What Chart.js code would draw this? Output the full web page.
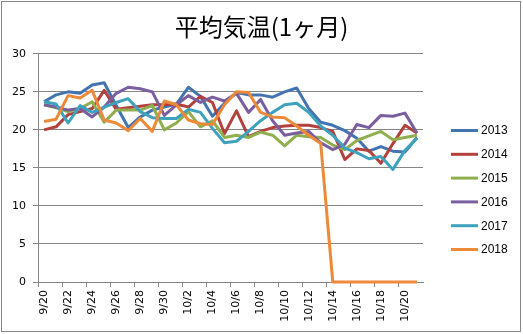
<!DOCTYPE html>
<html>
<head>
<meta charset="utf-8">
<script src="https://cdn.jsdelivr.net/npm/chart.js@4/dist/chart.umd.min.js"></script>
<style>
  html, body { margin: 0; padding: 0; background: #fff; }
  canvas { display: block; }
</style>
</head>
<body>
<canvas id="chart" width="523" height="334"></canvas>
<script>
const days = ['9/20', '9/21', '9/22', '9/23', '9/24', '9/25', '9/26', '9/27', '9/28', '9/29', '9/30',
    '10/1', '10/2', '10/3', '10/4', '10/5', '10/6', '10/7', '10/8', '10/9', '10/10', '10/11', '10/12',
    '10/13', '10/14', '10/15', '10/16', '10/17', '10/18', '10/19', '10/20', '10/21'];

const years = ['2013', '2014', '2015', '2016', '2017', '2018'];

const t2013 = [23.7, 24.6, 25.0, 24.8, 25.9, 26.2, 23.2, 20.3, 21.7, 22.6, 23.0, 23.4, 25.6, 24.4, 21.8, 23.5,
    24.9, 24.6, 24.6, 24.3, 25.0, 25.5, 22.8, 21.0, 20.6, 19.9, 18.9, 17.2, 17.8, 17.2, 17.1, 19.0];
const t2014 = [20.0, 20.4, 22.0, 22.4, 22.8, 25.2, 22.7, 22.9, 23.1, 23.3, 23.3, 23.4, 23.0, 24.4, 23.6, 19.5,
    22.5, 19.1, 19.8, 20.3, 20.5, 20.6, 20.6, 20.3, 19.8, 16.1, 17.5, 17.3, 15.6, 18.2, 20.6, 19.6];
const t2015 = [23.3, 22.9, 22.4, 22.8, 23.7, 21.0, 22.6, 22.6, 22.6, 23.2, 20.0, 20.9, 22.4, 20.4, 21.2, 19.0,
    19.3, 19.0, 19.7, 19.3, 17.9, 19.3, 19.1, 19.0, 18.0, 17.4, 18.6, 19.2, 19.8, 18.7, 19.0, 19.3];
const t2016 = [23.3, 23.0, 22.6, 22.8, 21.7, 23.0, 24.8, 25.6, 25.4, 25.0, 21.9, 23.3, 24.5, 23.6, 24.3, 23.8,
    24.8, 22.3, 24.0, 21.2, 19.3, 19.6, 19.8, 18.3, 17.4, 18.1, 20.7, 20.3, 21.9, 21.8, 22.2, 19.6];
const t2017 = [23.7, 23.4, 20.9, 23.2, 22.3, 23.0, 23.6, 24.1, 22.4, 21.6, 21.5, 21.5, 22.7, 22.3, 20.2, 18.3,
    18.5, 19.8, 21.2, 22.3, 23.3, 23.5, 22.3, 20.5, 19.3, 17.6, 17.0, 16.2, 16.5, 14.8, 17.3, 18.9];
const t2018 = [21.1, 21.4, 24.5, 24.2, 25.2, 21.3, 20.9, 19.9, 21.5, 19.8, 23.8, 23.3, 21.3, 20.8, 20.7, 23.3,
    25.0, 24.9, 22.3, 21.7, 21.6, 20.5, 19.3, 18.2, 0, 0, 0, 0, 0, 0, 0, 0];

const temps = [t2013, t2014, t2015, t2016, t2017, t2018];
const colours = ['#4474b0', '#b4403c', '#8fae4e', '#7a5e9e', '#3ea2bd', '#ec8a3a'];

const gridGray = '#868686';

// legend drawn by hand so it can sit away from the plot like in excel
const sideLegend = {
    id: 'sideLegend',
    afterDraw(chart) {
        const ctx = chart.ctx;
        ctx.save();
        ctx.font = '12px "Liberation Sans", Arial, sans-serif';
        ctx.textBaseline = 'middle';
        ctx.fillStyle = '#000';
        chart.data.datasets.forEach((ds, i) => {
            const y = 130.5 + i * 23.8;
            ctx.strokeStyle = ds.borderColor;
            ctx.lineWidth = 3;
            ctx.beginPath();
            ctx.moveTo(451, y);
            ctx.lineTo(478, y);
            ctx.stroke();
            ctx.fillText(ds.label, 481, y + 0.5);
        });
        ctx.restore();
    }
};

const frame = {
    id: 'frame',
    beforeDraw(chart) {
        const ctx = chart.ctx;
        ctx.save();
        ctx.fillStyle = '#fff';
        ctx.fillRect(0, 0, chart.width, chart.height);
        ctx.strokeStyle = gridGray;
        ctx.lineWidth = 1;
        ctx.strokeRect(1.5, 1.5, 519, 330);
        ctx.restore();
    }
};

const datasets = [];
for (let i = 0; i < years.length; i++) {
    datasets.push({
        label: years[i],
        data: temps[i],
        borderColor: colours[i],
        backgroundColor: colours[i],
        borderWidth: 3,
        pointRadius: 0,
        tension: 0,
        borderJoinStyle: 'round',
        clip: false,
        order: years.length - i
    });
}

new Chart(document.getElementById('chart'), {
    type: 'line',
    data: {
        labels: days,
        datasets: datasets
    },
    options: {
        responsive: false,
        animation: false,
        layout: {
            padding: 0
        },
        plugins: {
            legend: { display: false },
            tooltip: { enabled: false },
            title: {
                display: true,
                text: '平均気温(1ヶ月)',
                color: '#000',
                font: { family: '"Noto Sans CJK JP", sans-serif', size: 24, weight: 'normal' },
                padding: { top: 12, bottom: 13 }
            }
        },
        scales: {
            x: {
                offset: true,
                afterFit(scale) { scale.height = 52; },
                grid: {
                    offset: true,
                    drawOnChartArea: false,
                    tickLength: 5,
                    color: (c) => (c.index % 2 === 0 ? gridGray : 'rgba(0,0,0,0)')
                },
                border: { color: gridGray, width: 1 },
                ticks: {
                    autoSkip: false,
                    minRotation: 90,
                    maxRotation: 90,
                    padding: 3,
                    color: '#000',
                    font: { family: '"DejaVu Sans", sans-serif', size: 11 },
                    callback: function (val, idx) {
                        return idx % 2 === 0 ? this.getLabelForValue(val) : '';
                    }
                }
            },
            y: {
                min: 0,
                max: 30,
                afterFit(scale) { scale.width = 38; },
                grid: { color: gridGray, tickLength: 5 },
                border: { color: gridGray, width: 1 },
                ticks: {
                    stepSize: 5,
                    padding: 7,
                    color: '#000',
                    font: { family: '"DejaVu Sans", sans-serif', size: 11 }
                }
            },
            // empty box on the right that keeps room for the legend
            side: {
                position: 'right',
                display: true,
                afterFit(scale) { scale.width = 100; },
                grid: { display: false },
                border: { display: false },
                ticks: { display: false }
            }
        }
    },
    plugins: [frame, sideLegend]
});
</script>
</body>
</html>
